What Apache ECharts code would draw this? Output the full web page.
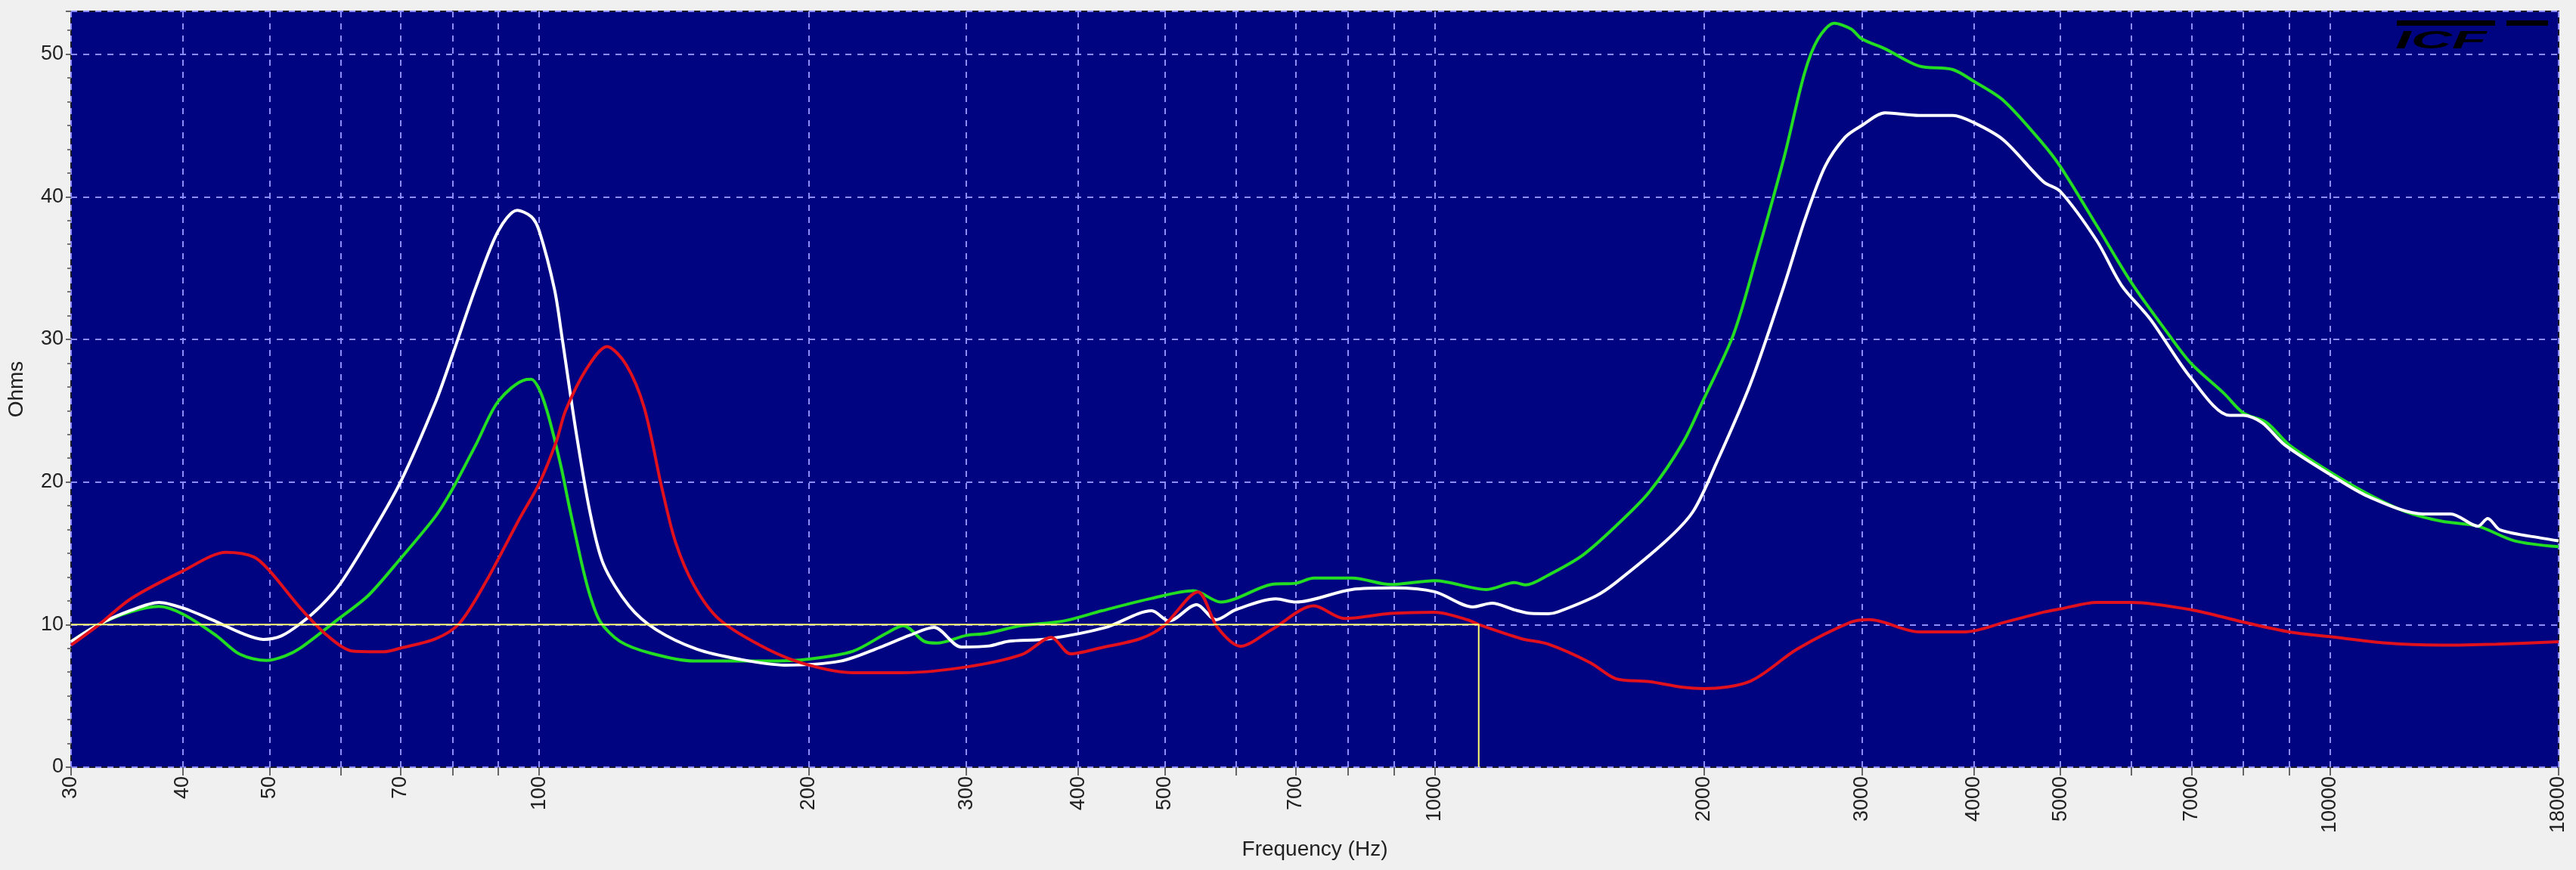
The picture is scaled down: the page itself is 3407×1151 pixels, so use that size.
<!DOCTYPE html>
<html><head><meta charset="utf-8">
<script src="https://cdn.jsdelivr.net/npm/echarts@6/dist/echarts.min.js"></script>
<style>html,body{margin:0;padding:0;background:#f0f0f0;}#c{width:3407px;height:1151px;}</style>
</head><body><div id="c"></div>
<script>
// ---- axis ticks / labels ----
const xTicks = [30,40,50,60,70,80,90,100,200,300,400,500,600,700,800,900,1000,2000,3000,4000,5000,6000,7000,8000,9000,10000,18000];
const xLabels = [30,40,50,70,100,200,300,400,500,700,1000,2000,3000,4000,5000,7000,10000,18000];

// ---- green curve ----
const freqGreen = [30,32.2,35,37.6,40,43.6,46.3,49.6,52,54.1,60,64.4,70,76.6,80,85,90,96.6,98,100,102,104,106,108,110,112,114,117,123,133,149,180,200,224,244,255,269,278,300,315,346,385,425,483,538,577,657,700,733,809,893,1000,1143,1228,1264,1339,1461,1593,1737,1894,2000,2157,2291,2457,2588,2680,2794,2919,3000,3185,3476,3789,4000,4318,4767,5000,5491,6000,6600,7000,7616,8000,8500,9000,10000,11033,12126,13320,14630,16080,18000];
const ohmsGreen = [8.8,10.0,10.9,11.27,10.73,9.22,7.92,7.48,7.8,8.35,10.51,12.03,14.63,17.6,19.5,22.64,25.66,27.18,27.2,26.5,25.0,23.0,20.8,18.3,16.0,13.8,12.0,10.2,8.83,8.0,7.44,7.44,7.58,8.13,9.38,9.93,8.83,8.7,9.24,9.37,9.93,10.25,10.97,11.84,12.37,11.58,12.81,12.9,13.26,13.26,12.81,13.08,12.46,12.94,12.78,13.46,14.83,16.9,19.3,22.77,25.87,30.36,35.9,42.8,48.64,51.06,52.16,51.75,51.06,50.37,49.16,48.92,48.1,46.75,43.8,42.1,37.96,33.98,30.36,28.29,26.2,24.84,24.15,22.6,20.7,19.15,17.94,17.25,16.9,15.87,15.46];

// ---- white curve ----
const freqWhite = [30,32.2,35,37.6,40,43.6,46.5,49.2,51.5,54.1,57,60,65,70,76.6,80,85,90,94.5,98,100,104,106,110,114,118,126,135,150,167,188,217,240,259,276,296,318,334,370,429,483,505,542,570,600,665,700,808,900,1000,1103,1159,1228,1281,1339,1374,1515,1593,1813,1944,2066,2253,2457,2588,2728,2873,3000,3185,3476,3789,4000,4318,4786,5000,5491,5848,6301,7000,7722,8000,8400,8900,10000,11033,12710,13640,14630,15000,15490,17320,18000];
const ohmsWhite = [8.8,10.0,11.0,11.56,11.16,10.2,9.4,8.96,9.2,10.07,11.3,12.9,16.4,20.0,25.6,28.9,33.7,37.6,39.05,38.6,37.6,33.5,30.2,23.4,17.8,14.2,11.3,9.65,8.27,7.58,7.16,7.44,8.4,9.24,9.8,8.43,8.5,8.83,9.0,9.8,10.97,10.25,11.4,10.34,11.05,11.8,11.58,12.46,12.57,12.3,11.24,11.5,11.03,10.78,10.76,10.9,12.02,12.94,15.87,17.94,21.39,26.9,33.8,38.3,42.1,44.17,45.0,45.88,45.7,45.7,45.2,43.98,41.05,40.36,36.9,33.8,31.4,27.25,24.67,24.67,24.15,22.6,20.53,18.98,17.76,17.76,16.9,17.44,16.63,16.04,15.87];

// ---- red curve ----
const freqRed = [30,32.2,35,40,44.7,48,50,54.1,58,62,67,70,76.6,81.4,87,95,100,104.5,107,113,119,125,131,137,142,149,159,180,200,224,255,300,346,373,392,425,469,498,544,572,607,657,733,793,893,1000,1088,1120,1250,1339,1492,1593,1737,1894,2000,2253,2540,2919,3060,3476,3915,4343,4786,5000,5491,6000,7000,8000,9000,10000,11570,13320,15340,18000];
const ohmsRed = [8.56,9.97,11.82,13.76,15.06,14.74,13.76,11.16,9.22,8.13,8.09,8.35,9.0,10.07,12.9,17.4,19.9,22.85,25.0,27.96,29.5,28.24,25.2,19.64,15.76,12.71,10.35,8.27,7.16,6.63,6.63,7.03,7.9,9.1,7.95,8.39,9.01,9.9,12.28,9.8,8.48,9.63,11.31,10.43,10.78,10.87,10.34,10.0,9.01,8.63,7.33,6.21,6.0,5.6,5.51,6.04,8.28,10.18,10.35,9.49,9.49,10.18,10.87,11.1,11.56,11.56,11.04,10.18,9.49,9.15,8.7,8.56,8.63,8.8];

// ---- yellow reference line ----
const refFreq = [30, 1120, 1120];
const refOhms = [10, 10, 0];

const zip = (a, b) => a.map((v, i) => [v, b[i]]);
const FONT = 'Liberation Sans, Arial, sans-serif';
const gridColor = '#8d8dff';

const chart = echarts.init(document.getElementById('c'), null, {renderer: 'canvas'});
const mk = (name, f, o, color, width) => ({
  name, type: 'line', data: zip(f, o), showSymbol: false, symbol: 'none',
  smooth: 0.3, lineStyle: {color, width}, itemStyle: {color}, z: 3
});

chart.setOption({
  backgroundColor: '#f0f0f0',
  animation: false,
  grid: {left: 88, right: 23, top: 15, bottom: 136, show: true, backgroundColor: '#000480', borderColor: '#1a1a2a', borderWidth: 2},
  xAxis: {
    type: 'log', logBase: 10, min: 30, max: 18000,
    axisLine: {show: false},
    axisTick: {show: true, customValues: xTicks, length: 11, lineStyle: {color: '#666', width: 2}},
    minorTick: {show: false},
    axisLabel: {customValues: xLabels, rotate: 90, fontSize: 27, color: '#222', margin: 12, fontFamily: FONT,
      formatter: v => String(Math.round(v))},
    splitLine: {show: true, lineStyle: {color: gridColor, type: [8, 8], width: 2}},
    minorSplitLine: {show: false},
    name: 'Frequency (Hz)', nameLocation: 'middle', nameGap: 93,
    nameTextStyle: {fontSize: 28, color: '#222', fontFamily: FONT}
  },
  yAxis: {
    type: 'value', min: 0, max: 53, interval: 10,
    axisLine: {show: false},
    axisTick: {show: true, length: 7, lineStyle: {color: '#666', width: 2}},
    minorTick: {show: true, splitNumber: 6, length: 5, lineStyle: {color: '#777', width: 2}},
    axisLabel: {fontSize: 27, color: '#222', margin: 10, showMaxLabel: false, fontFamily: FONT},
    splitLine: {show: true, lineStyle: {color: gridColor, type: [8, 8], width: 2}},
    name: 'Ohms', nameLocation: 'middle', nameGap: 58,
    nameTextStyle: {fontSize: 28, color: '#222', fontFamily: FONT}
  },
  graphic: [
    {type: 'rect', left: 3170, top: 27, shape: {width: 130, height: 7}, style: {fill: '#000'}, z: 10},
    {type: 'rect', left: 3315, top: 27, shape: {width: 55, height: 7}, style: {fill: '#000'}, z: 10},
    {type: 'text', left: 3168, top: 38, style: {text: 'ICF', fill: '#000', font: 'italic bold 34px ' + FONT}, scaleX: 2.2, z: 10}
  ],
  series: [
    mk('green', freqGreen, ohmsGreen, '#22dd22', 4),
    mk('white', freqWhite, ohmsWhite, '#ffffff', 4),
    mk('red', freqRed, ohmsRed, '#e0101c', 4),
    {name: 'ref', type: 'line', data: zip(refFreq, refOhms), showSymbol: false, symbol: 'none',
     lineStyle: {color: '#ffff70', width: 2}, z: 4}
  ]
});
</script></body></html>
